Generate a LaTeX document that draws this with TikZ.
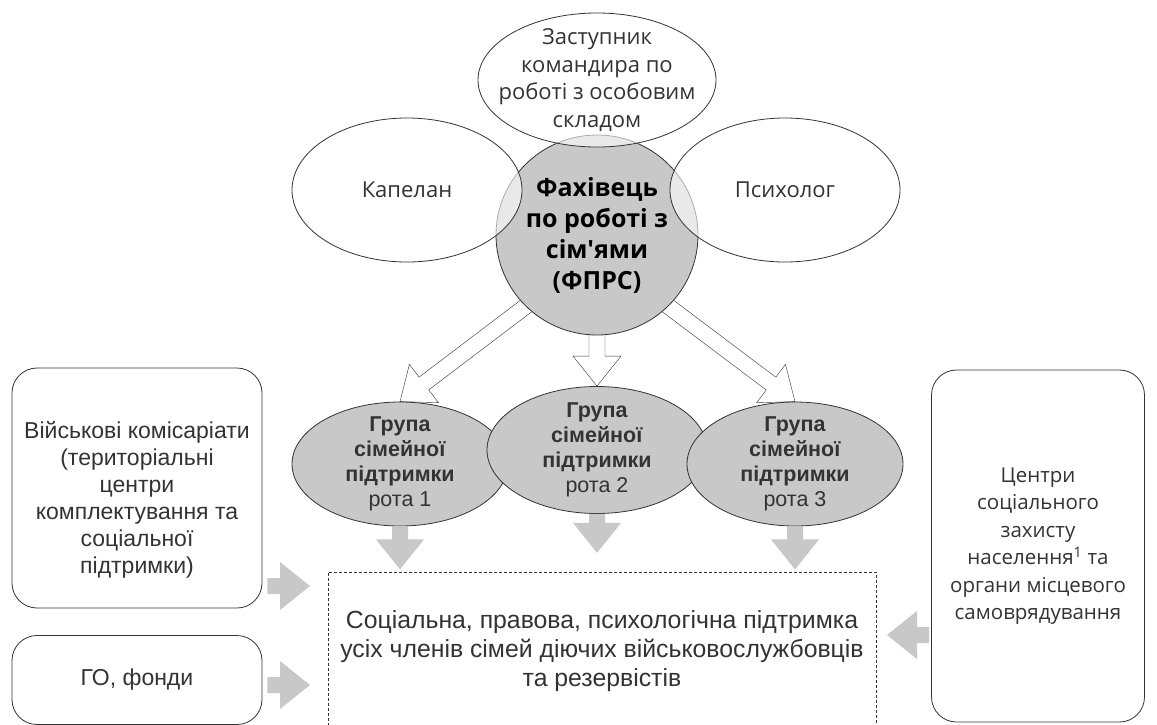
\documentclass[tikz,border=0pt]{standalone}
\usepackage{fontspec}
\setmainfont{Liberation Sans}
\newfontfamily\segoe{Open Sans}
\usetikzlibrary{calc, positioning, shapes.geometric, backgrounds}
\definecolor{fillgray}{RGB}{200,200,200}
\definecolor{textgray}{RGB}{51,51,51}

\begin{document}
\begin{tikzpicture}[
            x=1pt, y=-1pt, % pixel-like coordinates, y grows downwards
            font=\fontsize{23}{27}\selectfont, text=textgray, line width=0.8pt,
            oval_style/.style={ellipse, draw=textgray, inner sep=-18pt, align=center},
            role_style/.style={oval_style, fill=white, fill opacity=0.6, text opacity=1,
                    minimum width=230pt, minimum height=144pt, font=\segoe\fontsize{22}{27.5}\selectfont},
            core_style/.style={oval_style, fill=fillgray, minimum width=202pt, minimum height=200pt,
                    font=\segoe\bfseries\fontsize{25}{31}\selectfont, text=black},
            group_style/.style={oval_style, fill=fillgray, minimum width=216pt, minimum height=124pt,
                    font=\fontsize{21.5}{25}\selectfont},
            box_style/.style={rectangle, rounded corners=25pt, draw=textgray, align=center, inner sep=0pt},
            hollow_arrow/.style={draw=textgray, fill=white, line join=miter},
            gray_arrow/.style={fill=fillgray}
        ]
        \useasboundingbox (0,0) rectangle (1157,724);
        \clip (0,0) rectangle (1157,724);

        % Family work specialist and the roles around him
        \node[core_style] (fprs) at (597,235) {Фахівець\\по роботі з\\сім\textquotesingle ями\\(ФПРС)};
        \node[role_style, minimum width=238pt, minimum height=134pt] (zast) at (597,80)
            {Заступник\\командира по\\роботі з особовим\\складом};
        \node[role_style] (kap) at (407,190) {Капелан};
        \node[role_style] (psy) at (785,190) {Психолог};

        % Family support groups of the companies
        \node[group_style] (g1) at (400,464) {\textbf{Група}\\\textbf{сімейної}\\\textbf{підтримки}\\рота 1};
        \node[group_style, minimum width=220pt, minimum height=127pt] (g2) at (597,450)
            {\textbf{Група}\\\textbf{сімейної}\\\textbf{підтримки}\\рота 2};
        \node[group_style] (g3) at (795,464) {\textbf{Група}\\\textbf{сімейної}\\\textbf{підтримки}\\рота 3};

        % Outer partners
        \node[box_style, minimum width=250pt, minimum height=240pt] (mil) at (137,488) {};
        \node[align=center] (mil_text) at ($(mil.center)+(0,12)$)
            {Військові комісаріати\\(територіальні\\центри\\комплектування та\\соціальної\\підтримки)};
        \node[box_style, minimum width=250pt, minimum height=89pt] (go) at (137,680) {ГО, фонди};
        \node[box_style, minimum width=213pt, minimum height=352pt, font=\segoe\fontsize{20.5}{27.5}\selectfont] (centr) at (1038,546)
            {Центри\\соціального\\захисту\\населення\textsuperscript{1} та\\органи місцевого\\самоврядування};

        % Support for the families
        \node[rectangle, draw=textgray, line width=0.6pt, dash pattern=on 3pt off 2pt, align=center,
              minimum width=548pt, minimum height=158pt, inner sep=0pt, font=\fontsize{24.8}{29}\selectfont] (sup) at (602,651)
            {Соціальна, правова, психологічна підтримка\\усіх членів сімей діючих військовослужбовців\\та резервістів};

        % Hollow arrows from the specialist to the groups
        \begin{scope}[on background layer]
            \foreach \u/\v in {fprs.225/g1.north, fprs.south/g2.north, fprs.-45/g3.north} {
                    \coordinate (tail) at ($(\u)!-10pt!(\v)$);
                    \coordinate (neck) at ($(\v)!30pt!(\u)$);
                    \draw[hollow_arrow] ($(tail)!8pt!90:(\v)$) -- ($(neck)!8pt!90:(\v)$) -- ($(neck)!24pt!90:(\v)$) -- (\v)
                        -- ($(neck)!24pt!-90:(\v)$) -- ($(neck)!8pt!-90:(\v)$) -- ($(tail)!8pt!-90:(\v)$) -- cycle;
                }
        \end{scope}

        % Gray arrows towards the support box
        \coordinate (t1) at ($(g1.south)+(0,43)$);
        \coordinate (t2) at ($(g2.south)+(0,39)$);
        \coordinate (t3) at ($(g3.south)+(0,43)$);
        \coordinate (t4) at (310,586);
        \coordinate (t5) at (310,685);
        \coordinate (t6) at (887,635);
        \coordinate (s4) at ($(mil.east |- t4)+(5,0)$);
        \coordinate (s5) at ($(go.east |- t5)+(5,0)$);
        \coordinate (s6) at ($(centr.west |- t6)+(-2,0)$);
        \foreach \u/\v in {g1.south/t1, g2.south/t2, g3.south/t3, s4/t4, s5/t5, s6/t6} {
                \coordinate (neck) at ($(\v)!30pt!(\u)$);
                \fill[gray_arrow] ($(\u)!8pt!90:(\v)$) -- ($(neck)!8pt!90:(\v)$) -- ($(neck)!24pt!90:(\v)$) -- (\v)
                    -- ($(neck)!24pt!-90:(\v)$) -- ($(neck)!8pt!-90:(\v)$) -- ($(\u)!8pt!-90:(\v)$) -- cycle;
            }

    \end{tikzpicture}
\end{document}
